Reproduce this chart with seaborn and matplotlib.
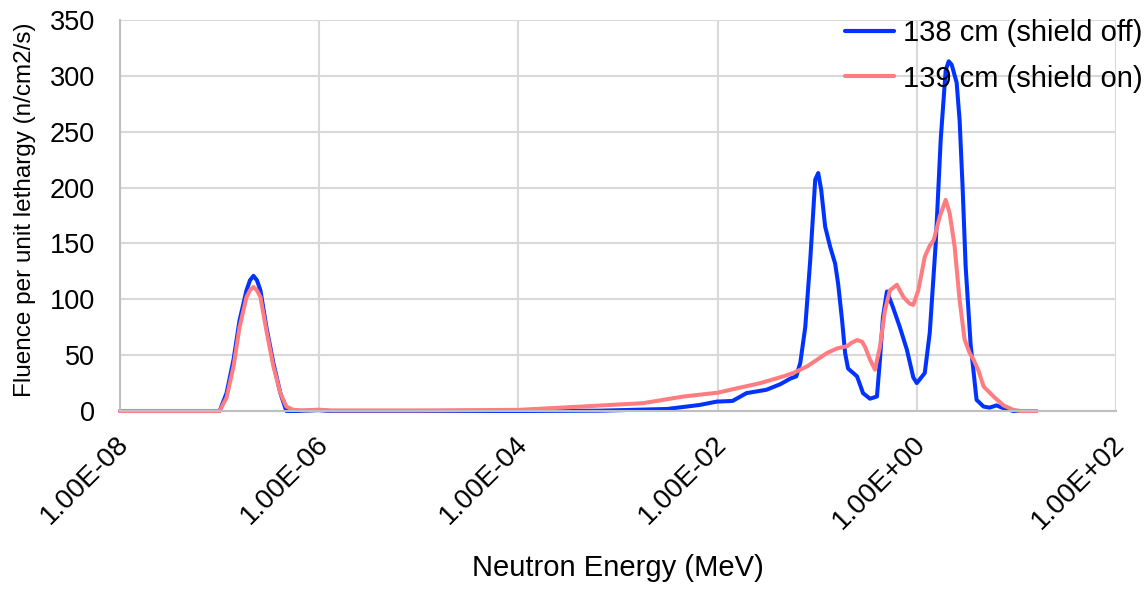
import numpy as np
import pandas as pd
import matplotlib
matplotlib.use("Agg")
import matplotlib.pyplot as plt
import matplotlib.transforms as mtransforms
import seaborn as sns
from matplotlib.ticker import FixedLocator, FuncFormatter, NullLocator

# Neutron spectra: log10 of energy (MeV) and fluence per unit lethargy (n/cm2/s)
off_log10_energy = [
    -8.00, -7.50, -7.30, -7.00, -6.93, -6.86, -6.80, -6.73, -6.695, -6.66,
    -6.625, -6.59, -6.53, -6.46, -6.39, -6.33, -6.19, -6.01, -5.89, -5.00,
    -4.00, -3.18, -2.51, -2.18, -2.01, -1.85, -1.71, -1.51, -1.37, -1.27,
    -1.21, -1.17, -1.12, -1.07, -1.02, -0.99, -0.96, -0.92, -0.87, -0.82,
    -0.79, -0.75, -0.72, -0.69, -0.60, -0.54, -0.47, -0.40, -0.37, -0.34,
    -0.30, -0.24, -0.17, -0.10, -0.035, 0.00, 0.08, 0.13, 0.19, 0.24,
    0.29, 0.32, 0.35, 0.40, 0.43, 0.46, 0.49, 0.54, 0.60, 0.67,
    0.73, 0.80, 0.87, 0.97, 1.20,
]
off_fluence = [
    0, 0, 0, 0, 16, 46, 81, 108, 117, 121,
    117, 108, 75, 43, 16, 0, 0, 0.8, 0, 0,
    0, 0.3, 1.8, 5.4, 8.4, 9, 16, 19, 24, 29,
    31, 43, 75, 135, 207, 213, 198, 165, 147, 132,
    114, 81, 52, 38, 31, 16, 11, 13, 46, 84,
    107, 93, 75, 55, 30, 25, 34, 70, 150, 243,
    305, 313, 310, 294, 260, 200, 130, 60, 10, 4,
    3, 5, 2.5, 0, 0,
]

on_log10_energy = [
    -8.00, -7.50, -7.30, -7.00, -6.93, -6.86, -6.80, -6.73, -6.695, -6.66,
    -6.625, -6.59, -6.53, -6.46, -6.39, -6.33, -6.26, -6.14, -6.01, -5.89,
    -5.00, -4.00, -3.51, -2.75, -2.34, -2.00, -1.77, -1.57, -1.34, -1.24,
    -1.10, -1.00, -0.90, -0.80, -0.70, -0.656, -0.60, -0.55, -0.52, -0.47,
    -0.42, -0.37, -0.32, -0.27, -0.20, -0.135, -0.07, -0.035, 0.015, 0.08,
    0.13, 0.17, 0.23, 0.29, 0.33, 0.38, 0.43, 0.48, 0.53, 0.57,
    0.62, 0.67, 0.77, 0.87, 0.97, 1.04, 1.20,
]
on_fluence = [
    0, 0, 0, 0, 12, 40, 75, 102, 108, 111,
    108, 102, 72, 40, 16, 4, 1, 0.5, 1.2, 0.5,
    0.5, 1, 3.3, 7, 13, 16.4, 21, 25, 31, 34,
    40, 46, 52, 56, 58, 61, 63.5, 62, 57.5, 46,
    37, 57.5, 90, 108, 113, 102, 96, 95, 108, 138,
    148, 153, 174, 189, 177, 147, 99, 64, 52, 46,
    36, 22, 13, 5, 1, 0, 0,
]

series_labels = ["138 cm (shield off)", "139 cm (shield on)"]
series_colors = ["#0033FF", "#FF7C80"]
x_tick_values = [1e-8, 1e-6, 1e-4, 1e-2, 1e0, 1e2]
y_tick_values = [0, 50, 100, 150, 200, 250, 300, 350]

frames = []
for label, logs, vals in [
    (series_labels[0], off_log10_energy, off_fluence),
    (series_labels[1], on_log10_energy, on_fluence),
]:
    frames.append(pd.DataFrame({
        "energy": np.power(10.0, np.asarray(logs, dtype=float)),
        "fluence": vals,
        "series": label,
    }))
df = pd.concat(frames, ignore_index=True)

sns.set_style("white")
plt.rcParams["font.family"] = ["Liberation Sans", "DejaVu Sans"]
plt.rcParams["text.color"] = "black"
plt.rcParams["axes.labelcolor"] = "black"

fig = plt.figure(figsize=(11.47, 5.90), dpi=100)
ax = fig.add_axes([120 / 1147, 1 - 411 / 590, (1116 - 120) / 1147, (411 - 20) / 590])

sns.lineplot(
    data=df, x="energy", y="fluence", hue="series",
    hue_order=series_labels, palette=series_colors,
    estimator=None, sort=False, ax=ax,
)
for line in ax.lines:
    line.set_linewidth(2.9)
    line.set_clip_on(False)
    line.set_solid_joinstyle("round")
    line.set_solid_capstyle("round")

ax.set_xscale("log")
ax.set_xlim(x_tick_values[0], x_tick_values[-1])
ax.set_ylim(0, 350)
ax.xaxis.set_major_locator(FixedLocator(x_tick_values))
ax.xaxis.set_minor_locator(NullLocator())
ax.xaxis.set_major_formatter(FuncFormatter(lambda v, _: f"{v:.2E}"))
ax.yaxis.set_major_locator(FixedLocator(y_tick_values))

grid_color = "#d9d9d9"
ax.grid(True, which="major", color=grid_color, linewidth=1.5)
ax.set_axisbelow(True)
for side in ["top", "right"]:
    ax.spines[side].set_visible(False)
for side in ["left", "bottom"]:
    ax.spines[side].set_color("#bfbfbf")
    ax.spines[side].set_linewidth(1.5)

ax.tick_params(axis="both", which="major", direction="out", length=7,
               width=1.5, color="#bfbfbf", labelcolor="black")
ax.tick_params(axis="y", labelsize=19.5, pad=11)
ax.tick_params(axis="x", labelsize=20, pad=14)
label_shift = mtransforms.ScaledTranslation(5 / 100, 0, fig.dpi_scale_trans)
for lbl in ax.get_xticklabels():
    lbl.set_rotation(45)
    lbl.set_ha("right")
    lbl.set_va("center")
    lbl.set_rotation_mode("anchor")
    lbl.set_transform(lbl.get_transform() + label_shift)

ax.set_xlabel("Neutron Energy (MeV)", fontsize=21, color="black")
ax.set_ylabel("Fluence per unit lethargy (n/cm2/s)", fontsize=17.5, color="black")
ax.xaxis.set_label_coords(0.5, -0.365)
ax.yaxis.set_label_coords(-0.084, 0.515)

leg = ax.legend(
    loc="upper right", bbox_to_anchor=(1.0, 0.975),
    bbox_transform=fig.transFigure, frameon=False, fontsize=21,
    handlelength=1.7, handletextpad=0.3, labelspacing=0.6,
    borderaxespad=0.0, borderpad=0.15,
)
for h in leg.get_lines():
    h.set_linewidth(3.0)
for t in leg.get_texts():
    t.set_color("black")

fig.savefig("out.png", dpi=100)
